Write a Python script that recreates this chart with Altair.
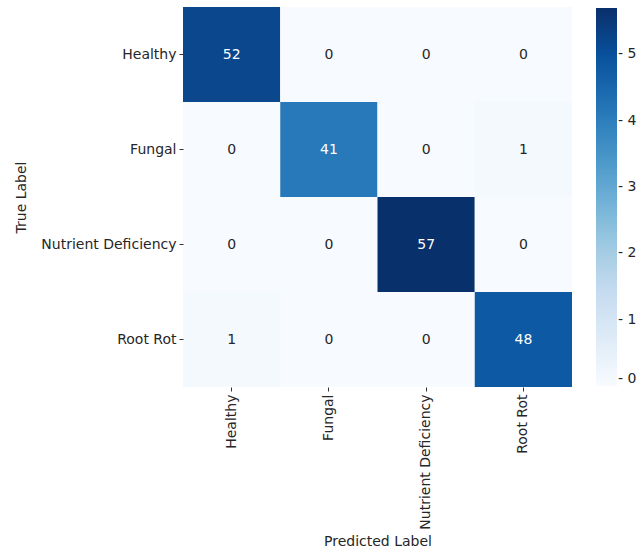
import altair as alt
import pandas as pd

classes = ["Healthy", "Fungal", "Nutrient Deficiency", "Root Rot"]
counts = [
    [52, 0, 0, 0],
    [0, 41, 0, 1],
    [0, 0, 57, 0],
    [1, 0, 0, 48],
]
blues = ["#f7fbff", "#deebf7", "#c6dbef", "#9ecae1", "#6baed6",
         "#4292c6", "#2171b5", "#08519c", "#08306b"]
cmax = 57
legend_ticks = [0, 10, 20, 30, 40, 50]

rows = []
for i, t in enumerate(classes):
    for j, p in enumerate(classes):
        rows.append({"true": t, "pred": p, "v": counts[i][j]})
df = pd.DataFrame(rows)

dom = [cmax * k / (len(blues) - 1) for k in range(len(blues))]
font = "DejaVu Sans"
fs = 14

base = alt.Chart(df)
rect = base.mark_rect().encode(
    x=alt.X("pred:N", sort=classes, title="Predicted Label",
            scale=alt.Scale(paddingInner=0, paddingOuter=0),
            axis=alt.Axis(labelAngle=270, labelAlign="right", labelBaseline="middle",
                          domain=False, ticks=True, tickSize=4, tickColor="#333333",
                          labelPadding=3, titlePadding=5)),
    y=alt.Y("true:N", sort=classes, title="True Label",
            scale=alt.Scale(paddingInner=0, paddingOuter=0),
            axis=alt.Axis(domain=False, ticks=True, tickSize=4, tickColor="#333333",
                          labelPadding=3, titlePadding=12)),
    color=alt.Color("v:Q", scale=alt.Scale(domain=dom, range=blues),
                    legend=alt.Legend(title=None, orient="none", legendX=413, legendY=1,
                                      direction="vertical", gradientLength=378,
                                      gradientThickness=21, gradientStrokeWidth=0,
                                      values=legend_ticks, labelOffset=1,
                                      labelBaseline="middle",
                                      labelExpr="'- ' + datum.label",
                                      labelFontSize=fs, labelFont=font,
                                      labelColor="#262626")),
)
text = base.mark_text(fontSize=fs, font=font).encode(
    x=alt.X("pred:N", sort=classes),
    y=alt.Y("true:N", sort=classes),
    text="v:Q",
    color=alt.condition(alt.datum.v > 30, alt.value("white"), alt.value("#262626")),
)

chart = (rect + text).properties(
    width=389, height=380,
    background="white",
    autosize=alt.AutoSizeParams(type="none"),
    padding={"left": 183, "top": 7, "right": 65, "bottom": 161},
).configure_axis(
    labelFont=font, titleFont=font, labelFontSize=fs, titleFontSize=fs,
    labelColor="#262626", titleColor="#262626", titleFontWeight="normal",
).configure_view(strokeWidth=0)

chart.save("out.html", embed_options={"renderer": "svg", "actions": False})
